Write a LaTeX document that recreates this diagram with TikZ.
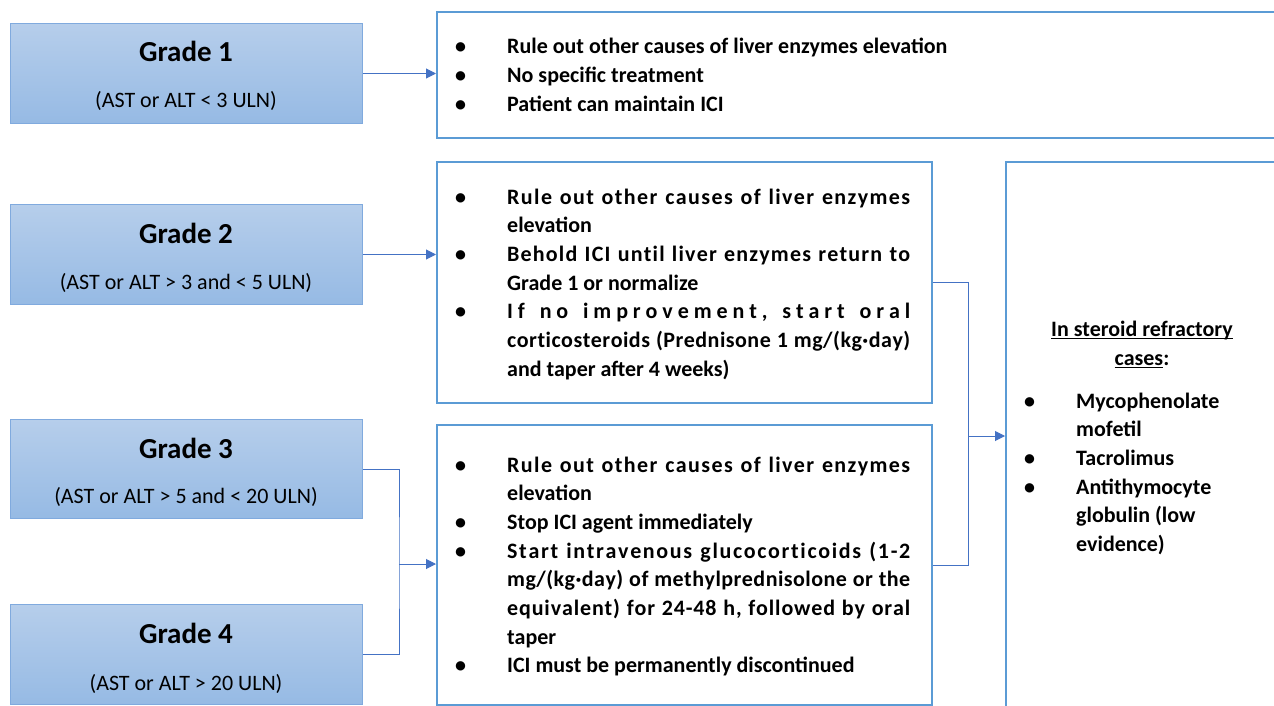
\documentclass[tikz,border=0pt]{standalone}
\usepackage{fontspec}
\setmainfont{Carlito}
\usetikzlibrary{arrows.meta}
\definecolor{gtop}{RGB}{182,206,235}
\definecolor{gbot}{RGB}{150,186,228}
\definecolor{gborder}{RGB}{128,170,222}
\definecolor{boxline}{RGB}{91,155,213}
\definecolor{connc}{RGB}{68,114,196}
\newcommand{\lsp}{\hskip 0pt plus 1fil\relax}
\newcommand{\wsp}{\hskip\fontdimen2\font plus 1fil\relax}
\ExplSyntaxOn
\cs_new_protected:Npn \spreadline #1 #2
  {
    \seq_set_split:Nnn \l_tmpa_seq { ~ } {#2}
    \hbox_to_wd:nn {#1}
      {
        \seq_map_indexed_inline:Nn \l_tmpa_seq
          {
            \int_compare:nNnT {##1} > {1} { \wsp }
            \tl_map_inline:nn {##2} { ####1 \lsp }
          }
        \unskip
      }
  }
\ExplSyntaxOff
\newcommand{\bitem}[1]{\makebox[52pt][l]{\textbullet}#1}
\newcommand{\cont}[1]{\hspace*{52pt}#1}
\newcommand{\wul}[1]{\leavevmode\setbox0\hbox{#1}\rlap{\rule[-3pt]{\wd0}{1.1pt}}\box0}
\begin{document}
\begin{tikzpicture}[x=1pt,y=-1pt,
  grade/.style={rectangle, draw=gborder, line width=1pt, top color=gtop, bottom color=gbot,
    minimum width=352pt, minimum height=100pt, inner sep=0pt, anchor=north west},
  gtitle/.style={inner sep=0pt, anchor=base, font=\bfseries\fontsize{29}{34}\selectfont},
  gsub/.style={inner sep=0pt, anchor=base, font=\fontsize{22}{26}\selectfont},
  panel/.style={rectangle, draw=boxline, line width=2pt, fill=white, inner sep=0pt, anchor=north west},
  body/.style={inner sep=0pt, font=\bfseries\fontsize{22}{28.7}\selectfont},
  conn/.style={draw=connc, line width=1pt},
  arr/.style={conn, -{Triangle[length=10pt,width=10pt]}}]
\useasboundingbox (0,0) rectangle (1274,706);
\clip (0,0) rectangle (1274,706);
\fill[white] (0,0) rectangle (1274,706);

% grade boxes
\node[grade] (g1) at (10,23) {};
\node[grade] (g2) at (10,204) {};
\node[grade, minimum height=99pt] (g3) at (10,419) {};
\node[grade] (g4) at (10,604) {};
\node[gtitle] (g1t) at (186,62) {Grade 1};
\node[gsub] (g1s) at (186,108) {(AST or ALT < 3 ULN)};
\node[gtitle] (g2t) at (186,243) {Grade 2};
\node[gsub] (g2s) at (186,289) {(AST or ALT > 3 and < 5 ULN)};
\node[gtitle] (g3t) at (186,458) {Grade 3};
\node[gsub] (g3s) at (186,503) {(AST or ALT > 5 and < 20 ULN)};
\node[gtitle] (g4t) at (186,643) {Grade 4};
\node[gsub] (g4s) at (186,690) {(AST or ALT > 20 ULN)};

% panels
\node[panel, minimum width=860pt, minimum height=126pt] (p1) at (436,11) {};
\node[panel, minimum width=495pt, minimum height=241pt] (p2) at (436,161) {};
\node[panel, minimum width=495pt, minimum height=280pt] (p3) at (436,424) {};
\node[panel, minimum width=300pt, minimum height=600pt] (p4) at (1005,161) {};

% panel texts
\node[body, anchor=base west] (t1) at (455,54) {\parbox[t]{700pt}{\raggedright
\bitem{Rule out other causes of liver enzymes elevation}\\
\bitem{No specific treatment}\\
\bitem{Patient can maintain ICI}}};

\node[body, anchor=base west] (t2) at (455,204) {\parbox[t]{470pt}{%
\bitem{\spreadline{403pt}{Rule out other causes of liver enzymes}}\\
\cont{elevation}\\
\bitem{\spreadline{403pt}{Behold ICI until liver enzymes return to}}\\
\cont{Grade 1 or normalize}\\
\bitem{\spreadline{403pt}{If no improvement, start oral}}\\
\cont{\spreadline{403pt}{corticosteroids (Prednisone 1 mg/(kg·day)}}\\
\cont{and taper after 4 weeks)}}};

\node[body, anchor=base west] (t3) at (455,472) {\parbox[t]{470pt}{%
\bitem{\spreadline{403pt}{Rule out other causes of liver enzymes}}\\
\cont{elevation}\\
\bitem{Stop ICI agent immediately}\\
\bitem{\spreadline{403pt}{Start intravenous glucocorticoids (1-2}}\\
\cont{\spreadline{403pt}{mg/(kg·day) of methylprednisolone or the}}\\
\cont{\spreadline{403pt}{equivalent) for 24-48 h, followed by oral}}\\
\cont{taper}\\
\bitem{ICI must be permanently discontinued}}};

\node[body, anchor=base] (t4a) at (1142,336) {\wul{In steroid refractory}};
\node[body, anchor=base] (t4b) at (1142,365) {\wul{cases}:};
\node[body, anchor=base west] (t4c) at (1024,408) {\parbox[t]{240pt}{\raggedright
\bitem{Mycophenolate}\\
\cont{mofetil}\\
\bitem{Tacrolimus}\\
\bitem{Antithymocyte}\\
\cont{globulin (low}\\
\cont{evidence)}}};

% connectors
\coordinate (m34) at (399,564);
\coordinate (m23) at (968,436);
\draw[arr] (g1.east) -- (g1.east -| p1.west);
\draw[arr] (g2.east) -- (g2.east -| p2.west);
\draw[conn] (g3.east) -| (m34) |- (g4.east);
\draw[arr] (m34) -- (m34 -| p3.west);
\draw[conn] (p2.east) -| (m23) |- (p3.east);
\draw[arr] (m23) -- (m23 -| p4.west);
\end{tikzpicture}
\end{document}
